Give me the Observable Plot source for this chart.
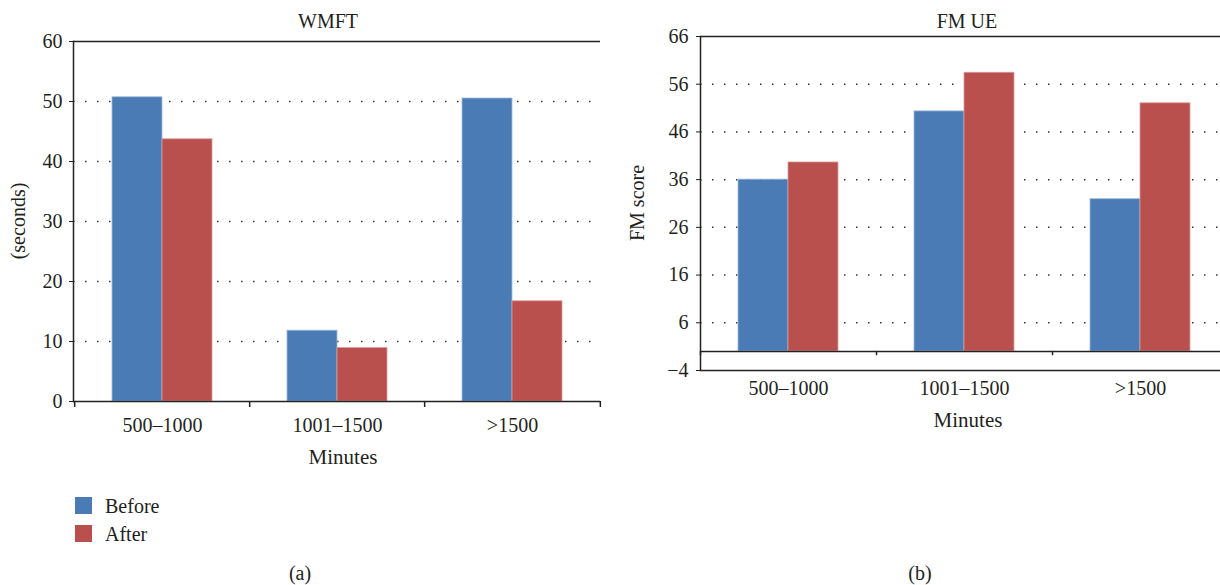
<!DOCTYPE html>
<html><head><meta charset="utf-8">
<script src="https://cdn.jsdelivr.net/npm/d3@7"></script>
<script src="https://cdn.jsdelivr.net/npm/@observablehq/plot@0.6"></script>
<style>
body{margin:0;background:#fff;overflow:hidden;font-family:"Liberation Serif",serif;color:#231f20}
#wrap{position:relative;width:1220px;height:585px;overflow:hidden;background:#fff}
#wrap svg, #wrap svg text{font-family:"Liberation Serif",serif !important}
.abs{position:absolute;white-space:nowrap;line-height:1}
.c{transform:translate(-50%,-50%)}
.rot{transform:translate(-50%,-50%) rotate(-90deg)}
.sw{position:absolute;width:17px;height:17px}
</style></head><body><div id="wrap"></div>
<script>
// ---- data ----
const categories = ["500–1000", "1001–1500", ">1500"];
const seriesNames = ["Before", "After"];
const wmftBefore = [50.7, 11.8, 50.5];
const wmftAfter = [43.7, 8.9, 16.7];
const fmBefore = [36.0, 50.3, 31.9];
const fmAfter = [39.6, 58.4, 52.0];
const wmftTicks = [0, 10, 20, 30, 40, 50, 60];
const fmTicks = [-4, 6, 16, 26, 36, 46, 56, 66];
const colors = ["#4a7bb5", "#b9504e"];

function panel(o) {
  const rows = categories.map((c, i) => ({cat: c, before: o.before[i], after: o.after[i]}));
  const step = (o.width - o.mL - o.mR) / 3;
  const bw = 50;
  const pi = 1 - bw / step;
  const base = o.baseline;
  const marks = [
    Plot.ruleY(o.grid, {y: d => d, stroke: "#333", strokeWidth: 1.5, strokeDasharray: "1.5 10.5"}),
    Plot.barY(rows, {x: "cat", y1: base, y2: "before", fill: colors[0], stroke: "#9db8db", strokeWidth: 0.8, dx: -bw / 2}),
    Plot.barY(rows, {x: "cat", y1: base, y2: "after", fill: colors[1], stroke: "#d99b99", strokeWidth: 0.8, dx: bw / 2}),
    Plot.ruleX(categories, {x: d => d, dx: -step / 2, y1: base, y2: base - o.drop, stroke: "#222", strokeWidth: 1.5}),
    Plot.ruleX([categories[2]], {x: d => d, dx: step / 2, y1: base, y2: base - o.drop, stroke: "#222", strokeWidth: 1.5}),
    Plot.ruleY(o.solid, {y: d => d, stroke: "#222", strokeWidth: 1.5}),
    Plot.axisY({ticks: o.ticks, tickSize: 4, tickPadding: o.tickPad, label: null, fill: "#231f20", tickFormat: d => d3.format("")(d).replace("-", "\u2212")}),
    Plot.axisX({tickSize: 0, tickPadding: o.xPad, label: null, fill: "#231f20"})
  ];
  marks.push(o.fullFrame ? Plot.frame({stroke: "#222", strokeWidth: 1.5}) : Plot.frame({anchor: "left", stroke: "#222", strokeWidth: 1.5}));
  return Plot.plot({
    width: o.width, height: o.height,
    marginLeft: o.mL, marginRight: o.mR, marginTop: o.mT, marginBottom: o.mB,
    style: {fontFamily: "Liberation Serif, serif", fontSize: "20px", color: "#231f20", background: "transparent", overflow: "visible"},
    x: {domain: categories, paddingInner: pi, paddingOuter: pi / 2, align: 0.5, axis: null},
    y: {domain: o.yDomain, axis: null},
    marks
  });
}

const wrap = document.getElementById("wrap");

const left = panel({
  before: wmftBefore, after: wmftAfter, yDomain: [0, 60], ticks: wmftTicks,
  grid: [10, 20, 30, 40, 50], solid: [0, 60], baseline: 0, drop: 1,
  width: 612, height: 480, mL: 73, mR: 12, mT: 41, mB: 79, tickPad: 7, xPad: 16, fullFrame: false
});
left.style.position = "absolute"; left.style.left = "0px"; left.style.top = "0px";
wrap.appendChild(left);

const right = panel({
  before: fmBefore, after: fmAfter, yDomain: [-4, 66], ticks: fmTicks,
  grid: [6, 16, 26, 36, 46, 56], solid: [0], baseline: 0, drop: 0.9,
  width: 625, height: 480, mL: 90, mR: 7, mT: 36, mB: 110, tickPad: 8, xPad: 10, fullFrame: true
});
right.style.position = "absolute"; right.style.left = "610px"; right.style.top = "0px";
wrap.appendChild(right);

function txt(s, x, y, size, cls) {
  const d = document.createElement("div");
  d.className = "abs " + (cls || "c");
  d.textContent = s;
  d.style.left = x + "px"; d.style.top = y + "px"; d.style.fontSize = size + "px";
  wrap.appendChild(d);
  return d;
}
txt("WMFT", 328, 21, 20);
txt("FM UE", 967, 21, 20);
txt("(seconds)", 18, 221, 20, "rot");
txt("FM score", 637, 203, 20, "rot");
txt("Minutes", 343, 457, 21);
txt("Minutes", 968, 420, 21);
txt("(a)", 300, 573, 20);
txt("(b)", 920, 573, 20);
seriesNames.forEach((s, i) => {
  const sw = document.createElement("div");
  sw.className = "sw";
  sw.style.left = "75px"; sw.style.top = (497 + i * 28) + "px"; sw.style.background = colors[i];
  wrap.appendChild(sw);
  const t = txt(s, 105, 506 + i * 28, 20, "");
  t.style.transform = "translateY(-50%)";
});
</script>
</body></html>
